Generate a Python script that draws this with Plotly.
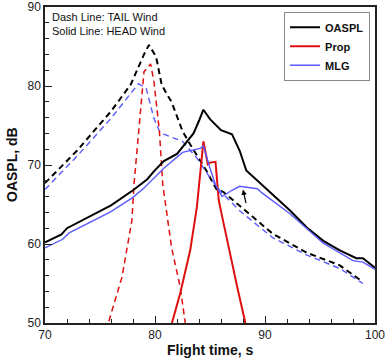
import plotly.graph_objects as go

# ---------------- data ----------------
oaspl_head_t = [70, 70.8, 71.5, 72, 74, 76, 78, 79.3, 79.9, 80.8, 82, 82.5, 83.5, 84, 84.4, 85, 86, 87, 87.7, 88.3, 89.3, 91, 92.3, 93.8, 95.3, 96.8, 98.3, 98.9, 100]
oaspl_head_v = [60.2, 60.7, 61.2, 62.0, 63.4, 64.9, 66.8, 68.2, 69.2, 70.5, 71.4, 72.3, 74.0, 75.6, 77.0, 75.8, 74.4, 73.9, 71.8, 69.3, 68.0, 65.8, 64.2, 62.1, 60.4, 59.2, 58.2, 58.2, 57.0]

mlg_head_t = [70, 70.8, 71.6, 72.2, 74, 76, 78, 79.0, 80.8, 82.5, 84.1, 84.4, 85, 85.5, 86.1, 87, 87.7, 89.3, 89.7, 92.3, 95.3, 98, 98.9, 100]
mlg_head_v = [59.5, 60.0, 60.6, 61.4, 62.7, 64.1, 65.9, 67.1, 69.6, 71.6, 72.1, 72.4, 69.6, 67.5, 66.0, 66.8, 67.3, 67.0, 66.5, 63.8, 60.1, 57.9, 57.7, 56.8]

prop_head_t = [81.3, 81.6, 82.3, 83.2, 83.8, 84.1, 84.4, 84.8, 85.0, 85.5, 85.8, 86.1, 87.1, 87.5, 88.2, 88.3]
prop_head_v = [49.0, 50.3, 53.8, 59.2, 64.6, 69.0, 73.0, 70.1, 70.3, 70.4, 65.5, 63.5, 56.7, 54.4, 50.1, 49.0]

oaspl_tail_t = [70, 72.9, 76.0, 77.8, 79.0, 79.45, 80.1, 80.6, 81.1, 81.5, 82.5, 83.2, 84.7, 85.6, 86.2, 87.7, 90.7, 93.8, 96.8, 98.6]
oaspl_tail_v = [67.7, 71.8, 76.8, 80.2, 84.0, 85.2, 83.7, 80.2, 78.9, 78.0, 74.3, 72.6, 69.2, 66.9, 66.6, 64.8, 61.3, 58.9, 57.3, 55.5]

mlg_tail_t = [70, 72.9, 76.0, 77.8, 78.5, 79.2, 79.9, 80.4, 80.8, 82.5, 83.8, 85.0, 86.0, 87.7, 90.7, 93.8, 96.8, 98.9]
mlg_tail_v = [66.9, 71.1, 75.9, 79.1, 80.3, 79.7, 75.9, 74.3, 73.9, 73.0, 70.9, 68.4, 66.6, 64.2, 60.8, 58.6, 56.9, 55.0]

prop_tail_t = [75.6, 75.8, 77.0, 77.9, 78.1, 78.5, 79.0, 79.6, 79.9, 80.4, 80.7, 81.5, 82.3, 82.8]
prop_tail_v = [49.0, 50.2, 55.8, 63.0, 67.7, 74.3, 81.8, 82.8, 80.6, 74.3, 67.6, 59.6, 54.5, 49.5]

legend_names = ["OASPL", "Prop", "MLG"]
note_lines = ["Dash Line: TAIL Wind", "Solid Line: HEAD Wind"]
x_title = "Flight time, s"
y_title = "OASPL, dB"

# ---------------- styles ----------------
BLACK = "#000000"
RED = "#e01010"
BLUE = "#5a5aff"
DASH = "6px,4px"
FONT = "Arial, Liberation Sans, sans-serif"

fig = go.Figure()

# tail wind (dashed)
fig.add_trace(go.Scatter(x=oaspl_tail_t, y=oaspl_tail_v, mode="lines", showlegend=False,
                         line=dict(color=BLACK, width=2, dash=DASH)))
fig.add_trace(go.Scatter(x=mlg_tail_t, y=mlg_tail_v, mode="lines", showlegend=False,
                         line=dict(color=BLUE, width=1.4, dash=DASH)))
fig.add_trace(go.Scatter(x=prop_tail_t, y=prop_tail_v, mode="lines", showlegend=False,
                         line=dict(color=RED, width=1.5, dash=DASH)))

# head wind (solid)
fig.add_trace(go.Scatter(x=oaspl_head_t, y=oaspl_head_v, mode="lines", name=legend_names[0],
                         line=dict(color=BLACK, width=2)))
fig.add_trace(go.Scatter(x=prop_head_t, y=prop_head_v, mode="lines", name=legend_names[1],
                         line=dict(color=RED, width=2)))
fig.add_trace(go.Scatter(x=mlg_head_t, y=mlg_head_v, mode="lines", name=legend_names[2],
                         line=dict(color=BLUE, width=1.4)))

# small arrow
fig.add_annotation(x=88.0, y=66.9, ax=88.3, ay=65.0, xref="x", yref="y", axref="x", ayref="y",
                   text="", showarrow=True, arrowhead=2, arrowsize=0.9, arrowwidth=1.2,
                   arrowcolor=BLACK)

# note text
fig.add_annotation(x=0.015, y=0.995, xref="paper", yref="paper", xanchor="left", yanchor="top",
                   text=note_lines[0] + "<br>" + note_lines[1], showarrow=False, align="left",
                   font=dict(family=FONT, size=11, color="#111"))

# axis titles as annotations for exact placement
fig.add_annotation(x=0.5, y=-0.055, xref="paper", yref="paper", xanchor="center", yanchor="top",
                   text="<b>" + x_title + "</b>", showarrow=False,
                   font=dict(family=FONT, size=14, color="#111"))
fig.add_annotation(x=-0.1, y=0.5, xref="paper", yref="paper", xanchor="center", yanchor="middle",
                   text="<b>" + y_title + "</b>", showarrow=False, textangle=-90,
                   font=dict(family=FONT, size=14, color="#111"))

axis_common = dict(
    showgrid=False, zeroline=False, showline=True, linecolor="#222", linewidth=1.5,
    mirror=True, ticks="inside", ticklen=7, tickwidth=1.2, tickcolor="#222",
    tickfont=dict(family=FONT, size=12, color="#222"), automargin=False,
)

fig.update_layout(
    width=388, height=362,
    margin=dict(l=45, r=13, t=7, b=39),
    plot_bgcolor="white", paper_bgcolor="white",
    font=dict(family=FONT, color="#111"),
    xaxis=dict(range=[70, 100], dtick=10, tick0=70,
               minor=dict(dtick=2, ticks="inside", ticklen=4, tickcolor="#222"),
               **axis_common),
    yaxis=dict(range=[50, 90], dtick=10, tick0=50,
               minor=dict(dtick=2, ticks="inside", ticklen=4, tickcolor="#222"),
               **axis_common),
    legend=dict(x=0.985, y=0.985, xanchor="right", yanchor="top",
                bgcolor="white", bordercolor="#888", borderwidth=1,
                font=dict(family=FONT, size=11, color="#111", weight="bold"),
                tracegroupgap=0, itemwidth=30),
)

fig.write_html("out.html", config={"displayModeBar": False},
               post_script="document.body.style.margin='0';document.body.style.overflow='hidden';")
